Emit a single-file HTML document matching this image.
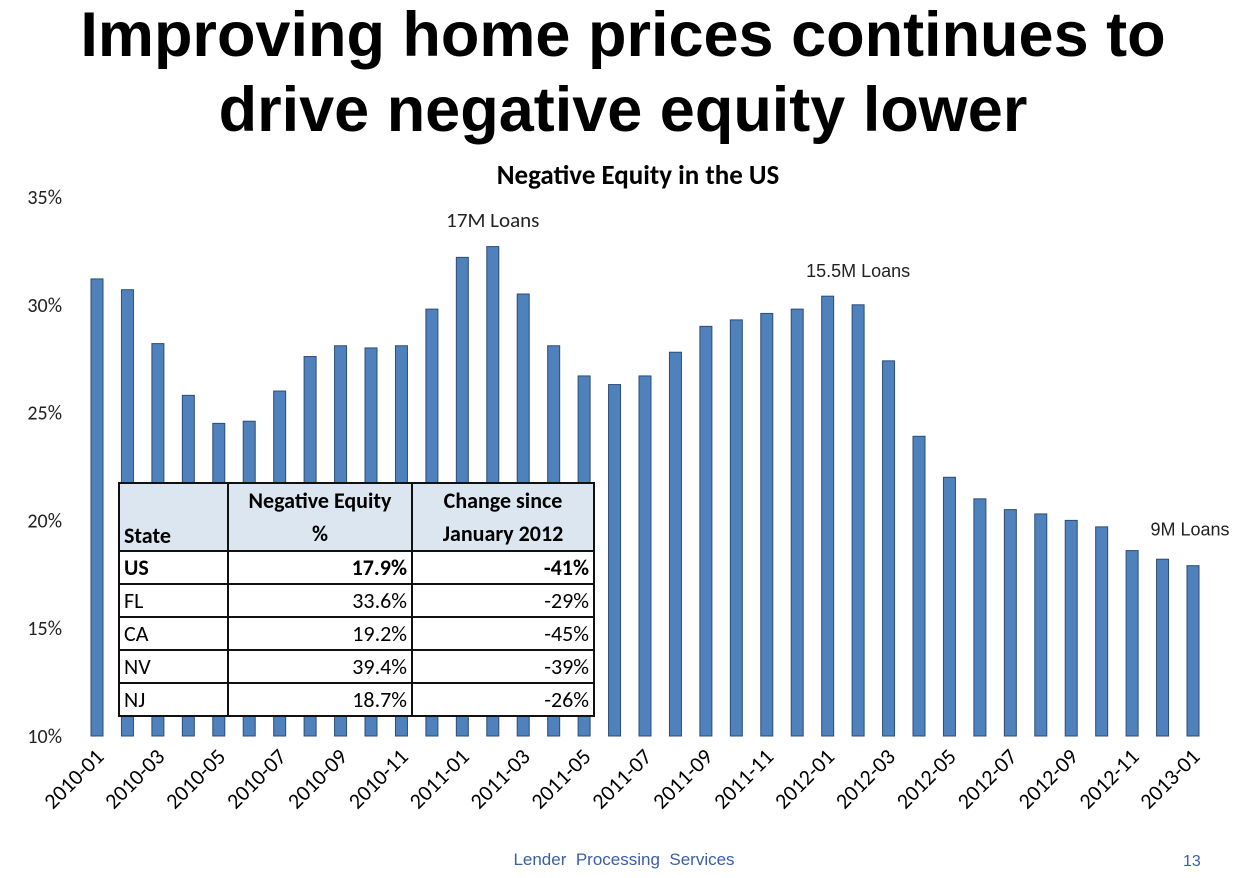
<!DOCTYPE html>
<html><head><meta charset="utf-8"><style>
body{margin:0;background:#fff;width:1241px;height:878px;overflow:hidden;position:relative;font-family:"Liberation Sans",sans-serif}
.t{position:absolute;left:0;width:1246px;text-align:center;font-weight:bold;font-size:63px;color:#000;line-height:76px}
table{position:absolute;left:118px;top:482px;width:477px;border-collapse:collapse;font-family:"Carlito","Liberation Sans",sans-serif;font-size:22px;background:#fff}
td{border:2px solid #111;height:31px;padding:0 4px;line-height:29px}
</style></head><body>
<div class="t" style="top:-3px">Improving home prices continues to</div>
<div class="t" style="top:72px">drive negative equity lower</div>
<svg id="c" width="1241" height="878" style="position:absolute;left:0;top:0"></svg>
<table>
<tr style="background:#dce6f1;font-weight:bold"><td style="width:99px;vertical-align:bottom;height:62px">State</td><td style="width:174px;text-align:center;line-height:33px">Negative Equity<br>%</td><td style="text-align:center;line-height:33px">Change since<br>January 2012</td></tr>
<tr style="font-weight:bold"><td>US</td><td style="text-align:right">17.9%</td><td style="text-align:right">-41%</td></tr>
<tr><td>FL</td><td style="text-align:right">33.6%</td><td style="text-align:right">-29%</td></tr>
<tr><td>CA</td><td style="text-align:right">19.2%</td><td style="text-align:right">-45%</td></tr>
<tr><td>NV</td><td style="text-align:right">39.4%</td><td style="text-align:right">-39%</td></tr>
<tr><td>NJ</td><td style="text-align:right">18.7%</td><td style="text-align:right">-26%</td></tr>
</table>
<div style="position:absolute;left:0;width:1248px;top:850px;text-align:center;color:#3a5ea8;font-size:17px">Lender&nbsp; Processing&nbsp; Services</div>
<div style="position:absolute;left:1183px;top:853px;color:#3a5ea8;font-size:16px">13</div>
<script>
const months=[];for(let y=2010;y<=2013;y++)for(let m=1;m<=12;m++){if(y===2013&&m>1)break;months.push(y+'-'+String(m).padStart(2,'0'));}
const values=[31.2,30.7,28.2,25.8,24.5,24.6,26.0,27.6,28.1,28.0,28.1,29.8,32.2,32.7,30.5,28.1,26.7,26.3,26.7,27.8,29.0,29.3,29.6,29.8,30.4,30.0,27.4,23.9,22.0,21.0,20.5,20.3,20.0,19.7,18.6,18.2,17.9];
const yTicks=[10,15,20,25,30,35];
const notes=[{t:'17M Loans',i:13,v:33.6},{t:'15.5M Loans',i:25,v:31.3},{t:'9M Loans',i:36,v:19.3}];
const NS='http://www.w3.org/2000/svg',svg=document.getElementById('c');
const X=i=>97+i*(1193-97)/36, Y=v=>736-(v-10)*(736-197)/25;
function mk(tag,a,txt){const e=document.createElementNS(NS,tag);for(const k in a)e.setAttribute(k,a[k]);if(txt!=null)e.textContent=txt;svg.appendChild(e);return e;}
const F='Carlito, "Liberation Sans", sans-serif';
let t=mk('text',{x:638,y:184,'text-anchor':'middle','font-family':F,'font-size':27,'font-weight':'bold'},'Negative Equity in the US');


yTicks.forEach(v=>{const e=mk('text',{x:62,y:Y(v)+7,'text-anchor':'end','font-family':F,'font-size':20,fill:'#222'},v+'%');

});
values.forEach((v,i)=>{const b=mk('rect',{x:X(i)-6,y:Y(v),width:12,height:Y(10)-Y(v),fill:'#4f81bd',stroke:'#2c4d75','stroke-width':1});

});
months.forEach((m,i)=>{if(i%2)return;const x=X(i)+8,y=758;const e=mk('text',{x:x,y:y,'text-anchor':'end','font-family':F,'font-size':22,transform:`rotate(-45 ${x} ${y})`},m);

});
notes.forEach((n,k)=>{const e=mk('text',{x:k===2?1190:X(n.i),y:Y(n.v),'text-anchor':'middle','font-family':k===0?F:'"Liberation Sans",sans-serif','font-size':k===0?21:18,fill:'#222'},n.t);

});
</script>
</body></html>
